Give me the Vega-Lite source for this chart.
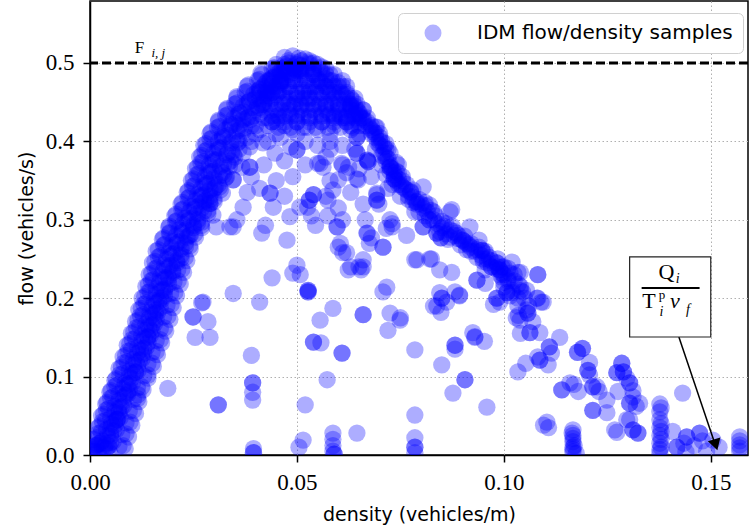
{
"$schema": "https://vega.github.io/schema/vega-lite/v6.json",
"width": 658, "height": 454,
"autosize": {"type": "none"},
"padding": {"left": 90, "top": 1, "right": 2, "bottom": 77},
"background": "white",
"config": {
  "view": {"stroke": "black", "strokeWidth": 1.5},
  "axis": {
    "labelFont": "Liberation Serif", "labelFontSize": 23, "labelColor": "black",
    "tickColor": "black", "tickSize": 7, "tickWidth": 1.5,
    "domainColor": "black", "domainWidth": 1.5,
    "grid": true, "gridDash": [1.5, 2.5], "gridColor": "#b0b0b0", "gridWidth": 1,
    "titleFont": "DejaVu Sans", "titleFontSize": 19, "titleFontWeight": "normal", "titleColor": "black",
    "labelPadding": 9, "labelFlush": false
  }
},
"datasets": {
"samples": [
{"density":0.0005,"flow":0.005},{"density":0.002,"flow":0.003},{"density":0.004,"flow":0.008},
{"density":0.001,"flow":0.02},{"density":0.003,"flow":0.018},{"density":0.005,"flow":0.024},
{"density":0.002,"flow":0.035},{"density":0.004,"flow":0.032},{"density":0.006,"flow":0.038},
{"density":0.0028,"flow":0.05},{"density":0.005,"flow":0.047},{"density":0.007,"flow":0.053},
{"density":0.0038,"flow":0.065},{"density":0.006,"flow":0.062},{"density":0.008,"flow":0.068},
{"density":0.0048,"flow":0.08},{"density":0.007,"flow":0.078},{"density":0.0095,"flow":0.083},
{"density":0.006,"flow":0.095},{"density":0.0085,"flow":0.092},{"density":0.010,"flow":0.098},
{"density":0.007,"flow":0.11},{"density":0.0095,"flow":0.107},{"density":0.0115,"flow":0.114},
{"density":0.008,"flow":0.125},{"density":0.0105,"flow":0.122},{"density":0.0125,"flow":0.128},
{"density":0.009,"flow":0.14},{"density":0.0115,"flow":0.137},{"density":0.014,"flow":0.143},
{"density":0.010,"flow":0.155},{"density":0.0125,"flow":0.152},{"density":0.015,"flow":0.158},
{"density":0.011,"flow":0.17},{"density":0.0135,"flow":0.167},{"density":0.016,"flow":0.173},
{"density":0.0118,"flow":0.185},{"density":0.0145,"flow":0.182},{"density":0.017,"flow":0.188},
{"density":0.0126,"flow":0.20},{"density":0.0155,"flow":0.197},{"density":0.018,"flow":0.203},
{"density":0.0135,"flow":0.215},{"density":0.016,"flow":0.212},{"density":0.019,"flow":0.218},
{"density":0.0143,"flow":0.23},{"density":0.017,"flow":0.227},{"density":0.020,"flow":0.233},
{"density":0.0151,"flow":0.245},{"density":0.018,"flow":0.242},{"density":0.021,"flow":0.248},
{"density":0.016,"flow":0.26},{"density":0.019,"flow":0.257},{"density":0.022,"flow":0.263},
{"density":0.0175,"flow":0.275},{"density":0.020,"flow":0.272},{"density":0.0235,"flow":0.278},
{"density":0.019,"flow":0.29},{"density":0.0215,"flow":0.287},{"density":0.025,"flow":0.293},
{"density":0.0205,"flow":0.305},{"density":0.023,"flow":0.302},{"density":0.026,"flow":0.308},
{"density":0.022,"flow":0.32},{"density":0.0245,"flow":0.317},{"density":0.0275,"flow":0.323},
{"density":0.0235,"flow":0.335},{"density":0.026,"flow":0.332},{"density":0.029,"flow":0.338},
{"density":0.0245,"flow":0.35},{"density":0.0275,"flow":0.347},{"density":0.030,"flow":0.353},
{"density":0.0255,"flow":0.365},{"density":0.0285,"flow":0.362},{"density":0.0315,"flow":0.368},
{"density":0.0265,"flow":0.38},{"density":0.0295,"flow":0.377},{"density":0.033,"flow":0.383},
{"density":0.0275,"flow":0.395},{"density":0.031,"flow":0.392},{"density":0.034,"flow":0.398},
{"density":0.029,"flow":0.41},{"density":0.032,"flow":0.407},{"density":0.0355,"flow":0.413},
{"density":0.031,"flow":0.425},{"density":0.034,"flow":0.422},{"density":0.037,"flow":0.428},
{"density":0.033,"flow":0.44},{"density":0.036,"flow":0.437},{"density":0.039,"flow":0.443},
{"density":0.0355,"flow":0.455},{"density":0.0385,"flow":0.452},{"density":0.042,"flow":0.458},
{"density":0.038,"flow":0.47},{"density":0.041,"flow":0.467},{"density":0.044,"flow":0.473},
{"density":0.0415,"flow":0.485},{"density":0.0445,"flow":0.482},{"density":0.0475,"flow":0.488},
{"density":0.045,"flow":0.498},{"density":0.048,"flow":0.5},{"density":0.051,"flow":0.497},
{"density":0.047,"flow":0.507},{"density":0.049,"flow":0.509},{"density":0.0505,"flow":0.506},
{"density":0.0015,"flow":0.0125},{"density":0.0045,"flow":0.011},{"density":0.002,"flow":0.0275},{"density":0.005,"flow":0.027},
{"density":0.003,"flow":0.0425},{"density":0.006,"flow":0.043},{"density":0.004,"flow":0.0575},{"density":0.007,"flow":0.06},
{"density":0.005,"flow":0.0725},{"density":0.008,"flow":0.074},{"density":0.006,"flow":0.0875},{"density":0.009,"flow":0.089},
{"density":0.0072,"flow":0.1025},{"density":0.0102,"flow":0.104},{"density":0.0082,"flow":0.1175},{"density":0.0112,"flow":0.119},
{"density":0.0092,"flow":0.1325},{"density":0.0122,"flow":0.134},{"density":0.0102,"flow":0.1475},{"density":0.0132,"flow":0.149},
{"density":0.0112,"flow":0.1625},{"density":0.0142,"flow":0.164},{"density":0.0122,"flow":0.1775},{"density":0.0152,"flow":0.179},
{"density":0.013,"flow":0.1925},{"density":0.016,"flow":0.194},{"density":0.014,"flow":0.2075},{"density":0.017,"flow":0.209},
{"density":0.0148,"flow":0.2225},{"density":0.0178,"flow":0.224},{"density":0.0157,"flow":0.2375},{"density":0.0187,"flow":0.239},
{"density":0.0165,"flow":0.2525},{"density":0.0195,"flow":0.254},{"density":0.0178,"flow":0.2675},{"density":0.0208,"flow":0.269},
{"density":0.0192,"flow":0.2825},{"density":0.0222,"flow":0.284},{"density":0.0207,"flow":0.2975},{"density":0.0237,"flow":0.299},
{"density":0.0222,"flow":0.3125},{"density":0.0252,"flow":0.314},{"density":0.0237,"flow":0.3275},{"density":0.0267,"flow":0.329},
{"density":0.0248,"flow":0.3425},{"density":0.0278,"flow":0.344},{"density":0.0258,"flow":0.3575},{"density":0.0288,"flow":0.359},
{"density":0.0268,"flow":0.3725},{"density":0.0298,"flow":0.374},{"density":0.0278,"flow":0.3875},{"density":0.0308,"flow":0.389},
{"density":0.029,"flow":0.4025},{"density":0.032,"flow":0.404},{"density":0.0308,"flow":0.4175},{"density":0.0338,"flow":0.419},
{"density":0.0328,"flow":0.4325},{"density":0.0358,"flow":0.434},{"density":0.035,"flow":0.4475},{"density":0.038,"flow":0.449},
{"density":0.0375,"flow":0.4625},{"density":0.0405,"flow":0.464},{"density":0.0405,"flow":0.4775},{"density":0.0435,"flow":0.479},
{"density":0.044,"flow":0.4925},{"density":0.047,"flow":0.494},
{"density":0.002,"flow":0.014},{"density":0.005,"flow":0.016},{"density":0.008,"flow":0.012},
{"density":0.0027,"flow":0.029},{"density":0.0057,"flow":0.031},{"density":0.0087,"flow":0.027},
{"density":0.0037,"flow":0.044},{"density":0.0067,"flow":0.046},{"density":0.0097,"flow":0.042},
{"density":0.0045,"flow":0.059},{"density":0.0075,"flow":0.061},{"density":0.0105,"flow":0.057},
{"density":0.0055,"flow":0.074},{"density":0.0085,"flow":0.076},{"density":0.0115,"flow":0.072},
{"density":0.0065,"flow":0.089},{"density":0.0095,"flow":0.091},{"density":0.0125,"flow":0.087},
{"density":0.008,"flow":0.104},{"density":0.011,"flow":0.106},{"density":0.014,"flow":0.102},
{"density":0.009,"flow":0.119},{"density":0.012,"flow":0.121},{"density":0.015,"flow":0.117},
{"density":0.010,"flow":0.134},{"density":0.013,"flow":0.136},{"density":0.016,"flow":0.132},
{"density":0.011,"flow":0.149},{"density":0.014,"flow":0.151},{"density":0.017,"flow":0.147},
{"density":0.012,"flow":0.164},{"density":0.015,"flow":0.166},{"density":0.018,"flow":0.162},
{"density":0.0128,"flow":0.179},{"density":0.0158,"flow":0.181},{"density":0.0188,"flow":0.177},
{"density":0.0136,"flow":0.194},{"density":0.0166,"flow":0.196},{"density":0.0196,"flow":0.192},
{"density":0.0145,"flow":0.209},{"density":0.0175,"flow":0.211},{"density":0.0205,"flow":0.207},
{"density":0.0153,"flow":0.224},{"density":0.0183,"flow":0.226},{"density":0.0213,"flow":0.222},
{"density":0.0162,"flow":0.239},{"density":0.0192,"flow":0.241},{"density":0.0222,"flow":0.237},
{"density":0.017,"flow":0.254},{"density":0.020,"flow":0.256},{"density":0.023,"flow":0.252},
{"density":0.0181,"flow":0.269},{"density":0.0211,"flow":0.271},{"density":0.0241,"flow":0.267},
{"density":0.0193,"flow":0.284},{"density":0.0223,"flow":0.286},{"density":0.0253,"flow":0.282},
{"density":0.021,"flow":0.299},{"density":0.024,"flow":0.301},{"density":0.027,"flow":0.297},
{"density":0.0225,"flow":0.314},{"density":0.0255,"flow":0.316},{"density":0.0285,"flow":0.312},
{"density":0.024,"flow":0.329},{"density":0.027,"flow":0.331},{"density":0.030,"flow":0.327},
{"density":0.0253,"flow":0.344},{"density":0.0283,"flow":0.346},{"density":0.0313,"flow":0.342},
{"density":0.0263,"flow":0.359},{"density":0.0293,"flow":0.361},{"density":0.0323,"flow":0.357},
{"density":0.0273,"flow":0.374},{"density":0.0303,"flow":0.376},{"density":0.0333,"flow":0.372},
{"density":0.0283,"flow":0.389},{"density":0.0313,"flow":0.391},{"density":0.0343,"flow":0.387},
{"density":0.0295,"flow":0.404},{"density":0.0325,"flow":0.406},{"density":0.0355,"flow":0.402},
{"density":0.0313,"flow":0.419},{"density":0.0343,"flow":0.421},{"density":0.0373,"flow":0.417},
{"density":0.0333,"flow":0.434},{"density":0.0363,"flow":0.436},{"density":0.0393,"flow":0.432},
{"density":0.0355,"flow":0.449},{"density":0.0385,"flow":0.451},{"density":0.0415,"flow":0.447},
{"density":0.038,"flow":0.464},{"density":0.041,"flow":0.466},{"density":0.044,"flow":0.462},
{"density":0.041,"flow":0.479},{"density":0.044,"flow":0.481},{"density":0.047,"flow":0.477},
{"density":0.0445,"flow":0.494},{"density":0.0475,"flow":0.496},{"density":0.0505,"flow":0.492},
{"density":0.0035,"flow":0.0095},{"density":0.007,"flow":0.011},{"density":0.0042,"flow":0.0245},{"density":0.0077,"flow":0.026},
{"density":0.0052,"flow":0.0395},{"density":0.0087,"flow":0.041},{"density":0.006,"flow":0.0545},{"density":0.0095,"flow":0.056},
{"density":0.007,"flow":0.0695},{"density":0.0105,"flow":0.071},{"density":0.008,"flow":0.0845},{"density":0.0115,"flow":0.086},
{"density":0.0095,"flow":0.0995},{"density":0.013,"flow":0.101},{"density":0.0105,"flow":0.1145},{"density":0.014,"flow":0.116},
{"density":0.0115,"flow":0.1295},{"density":0.015,"flow":0.131},{"density":0.0125,"flow":0.1445},{"density":0.016,"flow":0.146},
{"density":0.0135,"flow":0.1595},{"density":0.017,"flow":0.161},{"density":0.0143,"flow":0.1745},{"density":0.0178,"flow":0.176},
{"density":0.0151,"flow":0.1895},{"density":0.0186,"flow":0.191},{"density":0.016,"flow":0.2045},{"density":0.0195,"flow":0.206},
{"density":0.0168,"flow":0.2195},{"density":0.0203,"flow":0.221},{"density":0.0177,"flow":0.2345},{"density":0.0212,"flow":0.236},
{"density":0.0185,"flow":0.2495},{"density":0.022,"flow":0.251},{"density":0.0196,"flow":0.2645},{"density":0.0231,"flow":0.266},
{"density":0.0208,"flow":0.2795},{"density":0.0243,"flow":0.281},{"density":0.0225,"flow":0.2945},{"density":0.026,"flow":0.296},
{"density":0.024,"flow":0.3095},{"density":0.0275,"flow":0.311},{"density":0.0255,"flow":0.3245},{"density":0.029,"flow":0.326},
{"density":0.0268,"flow":0.3395},{"density":0.0303,"flow":0.341},{"density":0.0278,"flow":0.3545},{"density":0.0313,"flow":0.356},
{"density":0.0288,"flow":0.3695},{"density":0.0323,"flow":0.371},{"density":0.0298,"flow":0.3845},{"density":0.0333,"flow":0.386},
{"density":0.031,"flow":0.3995},{"density":0.0345,"flow":0.401},{"density":0.0328,"flow":0.4145},{"density":0.0363,"flow":0.416},
{"density":0.0348,"flow":0.4295},{"density":0.0383,"flow":0.431},{"density":0.037,"flow":0.4445},{"density":0.0405,"flow":0.446},
{"density":0.0395,"flow":0.4595},{"density":0.043,"flow":0.461},{"density":0.0425,"flow":0.4745},{"density":0.046,"flow":0.476},
{"density":0.046,"flow":0.4895},{"density":0.0495,"flow":0.491},
{"density":0.0008,"flow":0.007},{"density":0.0048,"flow":0.0025},{"density":0.0085,"flow":0.008},
{"density":0.0016,"flow":0.022},{"density":0.0056,"flow":0.0175},{"density":0.0093,"flow":0.023},
{"density":0.0024,"flow":0.037},{"density":0.0064,"flow":0.0325},{"density":0.0101,"flow":0.038},
{"density":0.0033,"flow":0.052},{"density":0.0073,"flow":0.0475},{"density":0.011,"flow":0.053},
{"density":0.0041,"flow":0.067},{"density":0.0081,"flow":0.0625},{"density":0.0118,"flow":0.068},
{"density":0.0051,"flow":0.082},{"density":0.0091,"flow":0.0775},{"density":0.0128,"flow":0.083},
{"density":0.0063,"flow":0.097},{"density":0.0103,"flow":0.0925},{"density":0.014,"flow":0.098},
{"density":0.0076,"flow":0.112},{"density":0.0116,"flow":0.1075},{"density":0.0153,"flow":0.113},
{"density":0.0086,"flow":0.127},{"density":0.0126,"flow":0.1225},{"density":0.0163,"flow":0.128},
{"density":0.0096,"flow":0.142},{"density":0.0136,"flow":0.1375},{"density":0.0173,"flow":0.143},
{"density":0.0106,"flow":0.157},{"density":0.0146,"flow":0.1525},{"density":0.0183,"flow":0.158},
{"density":0.0116,"flow":0.172},{"density":0.0156,"flow":0.1675},{"density":0.0193,"flow":0.173},
{"density":0.0124,"flow":0.187},{"density":0.0164,"flow":0.1825},{"density":0.0201,"flow":0.188},
{"density":0.0132,"flow":0.202},{"density":0.0172,"flow":0.1975},{"density":0.0209,"flow":0.203},
{"density":0.0141,"flow":0.217},{"density":0.0181,"flow":0.2125},{"density":0.0218,"flow":0.218},
{"density":0.0149,"flow":0.232},{"density":0.0189,"flow":0.2275},{"density":0.0226,"flow":0.233},
{"density":0.0157,"flow":0.247},{"density":0.0197,"flow":0.2425},{"density":0.0234,"flow":0.248},
{"density":0.0165,"flow":0.262},{"density":0.0205,"flow":0.2575},{"density":0.0242,"flow":0.263},
{"density":0.0178,"flow":0.277},{"density":0.0218,"flow":0.2725},{"density":0.0255,"flow":0.278},
{"density":0.0192,"flow":0.292},{"density":0.0232,"flow":0.2875},{"density":0.0269,"flow":0.293},
{"density":0.0208,"flow":0.307},{"density":0.0248,"flow":0.3025},{"density":0.0285,"flow":0.308},
{"density":0.0223,"flow":0.322},{"density":0.0263,"flow":0.3175},{"density":0.03,"flow":0.323},
{"density":0.0238,"flow":0.337},{"density":0.0278,"flow":0.3325},{"density":0.0315,"flow":0.338},
{"density":0.025,"flow":0.352},{"density":0.029,"flow":0.3475},{"density":0.0327,"flow":0.353},
{"density":0.026,"flow":0.367},{"density":0.03,"flow":0.3625},{"density":0.0337,"flow":0.368},
{"density":0.027,"flow":0.382},{"density":0.031,"flow":0.3775},{"density":0.0347,"flow":0.383},
{"density":0.028,"flow":0.397},{"density":0.032,"flow":0.3925},{"density":0.0357,"flow":0.398},
{"density":0.0293,"flow":0.412},{"density":0.0333,"flow":0.4075},{"density":0.037,"flow":0.413},
{"density":0.0311,"flow":0.427},{"density":0.0351,"flow":0.4225},{"density":0.0388,"flow":0.428},
{"density":0.0332,"flow":0.442},{"density":0.0372,"flow":0.4375},{"density":0.0409,"flow":0.443},
{"density":0.0355,"flow":0.457},{"density":0.0395,"flow":0.4525},{"density":0.0432,"flow":0.458},
{"density":0.0383,"flow":0.472},{"density":0.0423,"flow":0.4675},{"density":0.046,"flow":0.473},
{"density":0.0413,"flow":0.487},{"density":0.0453,"flow":0.4825},{"density":0.049,"flow":0.488},
{"density":0.0455,"flow":0.418},{"density":0.0485,"flow":0.418},{"density":0.0515,"flow":0.418},{"density":0.0545,"flow":0.418},
{"density":0.0575,"flow":0.418},{"density":0.0605,"flow":0.418},{"density":0.0635,"flow":0.418},
{"density":0.044,"flow":0.4325},{"density":0.047,"flow":0.4325},{"density":0.05,"flow":0.4325},{"density":0.053,"flow":0.4325},
{"density":0.056,"flow":0.4325},{"density":0.059,"flow":0.4325},{"density":0.062,"flow":0.4325},{"density":0.065,"flow":0.4325},
{"density":0.042,"flow":0.4475},{"density":0.045,"flow":0.4475},{"density":0.048,"flow":0.4475},{"density":0.051,"flow":0.4475},
{"density":0.054,"flow":0.4475},{"density":0.057,"flow":0.4475},{"density":0.06,"flow":0.4475},{"density":0.063,"flow":0.4475},
{"density":0.041,"flow":0.4625},{"density":0.044,"flow":0.4625},{"density":0.047,"flow":0.4625},{"density":0.05,"flow":0.4625},
{"density":0.053,"flow":0.4625},{"density":0.056,"flow":0.4625},{"density":0.059,"flow":0.4625},{"density":0.062,"flow":0.4625},
{"density":0.043,"flow":0.4775},{"density":0.046,"flow":0.4775},{"density":0.049,"flow":0.4775},{"density":0.052,"flow":0.4775},
{"density":0.055,"flow":0.4775},{"density":0.058,"flow":0.4775},{"density":0.061,"flow":0.4775},
{"density":0.045,"flow":0.4925},{"density":0.048,"flow":0.4925},{"density":0.051,"flow":0.4925},{"density":0.054,"flow":0.4925},{"density":0.057,"flow":0.4925},
{"density":0.048,"flow":0.503},{"density":0.051,"flow":0.503},{"density":0.053,"flow":0.503},
{"density":0.0625,"flow":0.448},{"density":0.065,"flow":0.437},{"density":0.067,"flow":0.43},{"density":0.0685,"flow":0.412},
{"density":0.07,"flow":0.405},{"density":0.0715,"flow":0.397},{"density":0.0725,"flow":0.385},{"density":0.074,"flow":0.373},
{"density":0.0745,"flow":0.36},{"density":0.0755,"flow":0.355},{"density":0.0765,"flow":0.345},{"density":0.078,"flow":0.338},
{"density":0.0795,"flow":0.326},{"density":0.081,"flow":0.322},{"density":0.0825,"flow":0.312},{"density":0.0835,"flow":0.305},
{"density":0.085,"flow":0.298},{"density":0.0875,"flow":0.292},{"density":0.0885,"flow":0.283},{"density":0.0905,"flow":0.279},
{"density":0.0915,"flow":0.268},{"density":0.094,"flow":0.265},{"density":0.0955,"flow":0.26},{"density":0.0965,"flow":0.252},
{"density":0.0985,"flow":0.25},{"density":0.0985,"flow":0.24},{"density":0.101,"flow":0.238},{"density":0.1025,"flow":0.23},
{"density":0.1035,"flow":0.218},{"density":0.1055,"flow":0.21},
{"density":0.044,"flow":0.425},{"density":0.047,"flow":0.425},{"density":0.05,"flow":0.425},{"density":0.053,"flow":0.425},
{"density":0.056,"flow":0.425},{"density":0.059,"flow":0.425},{"density":0.062,"flow":0.425},{"density":0.065,"flow":0.425},
{"density":0.042,"flow":0.44},{"density":0.045,"flow":0.44},{"density":0.048,"flow":0.44},{"density":0.051,"flow":0.44},
{"density":0.054,"flow":0.44},{"density":0.057,"flow":0.44},{"density":0.06,"flow":0.44},{"density":0.063,"flow":0.44},{"density":0.066,"flow":0.44},
{"density":0.041,"flow":0.455},{"density":0.044,"flow":0.455},{"density":0.047,"flow":0.455},{"density":0.05,"flow":0.455},
{"density":0.053,"flow":0.455},{"density":0.056,"flow":0.455},{"density":0.059,"flow":0.455},{"density":0.062,"flow":0.455},{"density":0.064,"flow":0.455},
{"density":0.042,"flow":0.47},{"density":0.045,"flow":0.47},{"density":0.048,"flow":0.47},{"density":0.051,"flow":0.47},
{"density":0.054,"flow":0.47},{"density":0.057,"flow":0.47},{"density":0.06,"flow":0.47},{"density":0.062,"flow":0.47},
{"density":0.045,"flow":0.485},{"density":0.048,"flow":0.485},{"density":0.051,"flow":0.485},{"density":0.054,"flow":0.485},
{"density":0.057,"flow":0.485},{"density":0.059,"flow":0.485},
{"density":0.047,"flow":0.498},{"density":0.05,"flow":0.498},{"density":0.053,"flow":0.498},{"density":0.055,"flow":0.498},
{"density":0.0455,"flow":0.4325},{"density":0.0485,"flow":0.4325},{"density":0.0515,"flow":0.4325},{"density":0.0545,"flow":0.4325},
{"density":0.0575,"flow":0.4325},{"density":0.0605,"flow":0.4325},{"density":0.0635,"flow":0.4325},
{"density":0.0435,"flow":0.4475},{"density":0.0465,"flow":0.4475},{"density":0.0495,"flow":0.4475},{"density":0.0525,"flow":0.4475},
{"density":0.0555,"flow":0.4475},{"density":0.0585,"flow":0.4475},{"density":0.0615,"flow":0.4475},{"density":0.0645,"flow":0.4475},
{"density":0.0425,"flow":0.4625},{"density":0.0455,"flow":0.4625},{"density":0.0485,"flow":0.4625},{"density":0.0515,"flow":0.4625},
{"density":0.0545,"flow":0.4625},{"density":0.0575,"flow":0.4625},{"density":0.0605,"flow":0.4625},
{"density":0.0435,"flow":0.4775},{"density":0.0465,"flow":0.4775},{"density":0.0495,"flow":0.4775},{"density":0.0525,"flow":0.4775},
{"density":0.0555,"flow":0.4775},{"density":0.0585,"flow":0.4775},
{"density":0.0465,"flow":0.4925},{"density":0.0495,"flow":0.4925},{"density":0.0525,"flow":0.4925},{"density":0.0555,"flow":0.4925},
{"density":0.063,"flow":0.445},{"density":0.064,"flow":0.435},{"density":0.0655,"flow":0.43},{"density":0.0665,"flow":0.42},
{"density":0.068,"flow":0.415},{"density":0.069,"flow":0.405},{"density":0.0705,"flow":0.4},{"density":0.0715,"flow":0.39},
{"density":0.0715,"flow":0.38},{"density":0.0725,"flow":0.37},{"density":0.0725,"flow":0.362},{"density":0.0735,"flow":0.357},
{"density":0.074,"flow":0.35},{"density":0.075,"flow":0.345},{"density":0.0765,"flow":0.338},{"density":0.077,"flow":0.326},
{"density":0.079,"flow":0.32},{"density":0.0795,"flow":0.31},{"density":0.0815,"flow":0.31},{"density":0.082,"flow":0.3},
{"density":0.084,"flow":0.295},{"density":0.0845,"flow":0.285},{"density":0.087,"flow":0.287},{"density":0.087,"flow":0.278},
{"density":0.089,"flow":0.276},{"density":0.0895,"flow":0.268},{"density":0.092,"flow":0.27},{"density":0.092,"flow":0.26},
{"density":0.0945,"flow":0.255},{"density":0.095,"flow":0.247},{"density":0.097,"flow":0.248},{"density":0.097,"flow":0.24},
{"density":0.0995,"flow":0.24},{"density":0.0995,"flow":0.232},{"density":0.1015,"flow":0.232},{"density":0.101,"flow":0.222},
{"density":0.0635,"flow":0.452},{"density":0.0645,"flow":0.44},{"density":0.066,"flow":0.428},{"density":0.0675,"flow":0.418},
{"density":0.069,"flow":0.41},{"density":0.0695,"flow":0.398},{"density":0.071,"flow":0.393},{"density":0.0705,"flow":0.382},
{"density":0.072,"flow":0.378},{"density":0.073,"flow":0.365},{"density":0.0735,"flow":0.36},{"density":0.0745,"flow":0.352},
{"density":0.0755,"flow":0.342},{"density":0.0775,"flow":0.335},{"density":0.078,"flow":0.322},{"density":0.0805,"flow":0.315},
{"density":0.081,"flow":0.305},{"density":0.083,"flow":0.3},{"density":0.0855,"flow":0.292},{"density":0.086,"flow":0.282},
{"density":0.088,"flow":0.28},{"density":0.0905,"flow":0.272},{"density":0.091,"flow":0.262},{"density":0.0935,"flow":0.262},
{"density":0.0935,"flow":0.252},{"density":0.096,"flow":0.245},{"density":0.098,"flow":0.238},{"density":0.1,"flow":0.23},
{"density":0.1025,"flow":0.222},{"density":0.1045,"flow":0.208},
{"density":0.04,"flow":0.41},{"density":0.043,"flow":0.40},{"density":0.046,"flow":0.405},{"density":0.052,"flow":0.40},
{"density":0.055,"flow":0.395},{"density":0.058,"flow":0.40},{"density":0.061,"flow":0.395},{"density":0.064,"flow":0.39},
{"density":0.047,"flow":0.375},{"density":0.052,"flow":0.37},{"density":0.057,"flow":0.38},{"density":0.062,"flow":0.36},
{"density":0.042,"flow":0.37},{"density":0.039,"flow":0.355},{"density":0.045,"flow":0.35},{"density":0.049,"flow":0.355},
{"density":0.058,"flow":0.35},{"density":0.063,"flow":0.335},{"density":0.041,"flow":0.34},{"density":0.047,"flow":0.33},
{"density":0.057,"flow":0.33},{"density":0.06,"flow":0.315},{"density":0.066,"flow":0.32},{"density":0.0665,"flow":0.30},
{"density":0.061,"flow":0.30},{"density":0.065,"flow":0.365},{"density":0.068,"flow":0.355},{"density":0.036,"flow":0.4},
{"density":0.035,"flow":0.38},{"density":0.038,"flow":0.335},
{"density":0.033,"flow":0.355},{"density":0.035,"flow":0.37},{"density":0.037,"flow":0.385},{"density":0.039,"flow":0.40},
{"density":0.041,"flow":0.415},{"density":0.043,"flow":0.43},{"density":0.031,"flow":0.345},{"density":0.029,"flow":0.33},
{"density":0.027,"flow":0.315},{"density":0.025,"flow":0.29},{"density":0.023,"flow":0.27},{"density":0.021,"flow":0.245},
{"density":0.019,"flow":0.225},{"density":0.017,"flow":0.2},{"density":0.0155,"flow":0.175},{"density":0.014,"flow":0.15},
{"density":0.032,"flow":0.36},{"density":0.034,"flow":0.375},{"density":0.036,"flow":0.39},
{"density":0.038,"flow":0.405},{"density":0.040,"flow":0.42},{"density":0.030,"flow":0.34},
{"density":0.028,"flow":0.325},{"density":0.026,"flow":0.30},{"density":0.024,"flow":0.28},
{"density":0.022,"flow":0.255},{"density":0.020,"flow":0.235},{"density":0.018,"flow":0.21},
{"density":0.016,"flow":0.185},{"density":0.0145,"flow":0.16},{"density":0.013,"flow":0.13},
{"density":0.011,"flow":0.105},{"density":0.009,"flow":0.08},{"density":0.007,"flow":0.055},
{"density":0.005,"flow":0.035},{"density":0.003,"flow":0.01},
{"density":0.042,"flow":0.45},{"density":0.045,"flow":0.46},{"density":0.048,"flow":0.47},
{"density":0.051,"flow":0.48},{"density":0.054,"flow":0.49},{"density":0.053,"flow":0.5},
{"density":0.056,"flow":0.495},{"density":0.058,"flow":0.485},{"density":0.06,"flow":0.475},
{"density":0.062,"flow":0.46},{"density":0.064,"flow":0.445},{"density":0.066,"flow":0.43},
{"density":0.068,"flow":0.42},{"density":0.07,"flow":0.41},{"density":0.044,"flow":0.44},
{"density":0.047,"flow":0.45},{"density":0.05,"flow":0.46},{"density":0.053,"flow":0.47},
{"density":0.056,"flow":0.475},{"density":0.058,"flow":0.465},{"density":0.06,"flow":0.455},
{"density":0.062,"flow":0.44},{"density":0.064,"flow":0.43},{"density":0.042,"flow":0.43},
{"density":0.045,"flow":0.425},{"density":0.048,"flow":0.435},{"density":0.051,"flow":0.445},
{"density":0.054,"flow":0.455},{"density":0.057,"flow":0.445},{"density":0.06,"flow":0.435},
{"density":0.063,"flow":0.42},{"density":0.047,"flow":0.42},{"density":0.05,"flow":0.425},
{"density":0.053,"flow":0.43},{"density":0.056,"flow":0.425},{"density":0.059,"flow":0.42},
{"density":0.061,"flow":0.43},{"density":0.052,"flow":0.49},{"density":0.05,"flow":0.49},
{"density":0.047,"flow":0.49},{"density":0.049,"flow":0.48},{"density":0.046,"flow":0.475},
{"density":0.043,"flow":0.465},{"density":0.055,"flow":0.48},{"density":0.057,"flow":0.47},
{"density":0.040,"flow":0.44},{"density":0.038,"flow":0.43},{"density":0.036,"flow":0.42},
{"density":0.04,"flow":0.455},{"density":0.052,"flow":0.455},{"density":0.055,"flow":0.46},
{"density":0.058,"flow":0.45},{"density":0.044,"flow":0.47},{"density":0.061,"flow":0.47},
{"density":0.063,"flow":0.455},{"density":0.066,"flow":0.44},{"density":0.065,"flow":0.42},
{"density":0.043,"flow":0.455},{"density":0.046,"flow":0.465},{"density":0.049,"flow":0.495},{"density":0.051,"flow":0.49},
{"density":0.054,"flow":0.485},{"density":0.057,"flow":0.48},{"density":0.059,"flow":0.47},{"density":0.061,"flow":0.46},
{"density":0.063,"flow":0.445},{"density":0.065,"flow":0.435},{"density":0.067,"flow":0.425},{"density":0.046,"flow":0.44},
{"density":0.049,"flow":0.445},{"density":0.052,"flow":0.465},{"density":0.055,"flow":0.47},{"density":0.058,"flow":0.46},
{"density":0.06,"flow":0.445},{"density":0.062,"flow":0.43},{"density":0.044,"flow":0.425},{"density":0.048,"flow":0.455},
{"density":0.051,"flow":0.455},{"density":0.055,"flow":0.445},{"density":0.058,"flow":0.435},{"density":0.046,"flow":0.43},
{"density":0.05,"flow":0.435},{"density":0.053,"flow":0.44},{"density":0.056,"flow":0.435},{"density":0.059,"flow":0.43},
{"density":0.062,"flow":0.425},{"density":0.041,"flow":0.435},{"density":0.039,"flow":0.42},{"density":0.046,"flow":0.485},
{"density":0.05,"flow":0.5},{"density":0.052,"flow":0.505},{"density":0.054,"flow":0.5},{"density":0.056,"flow":0.488},
{"density":0.043,"flow":0.42},{"density":0.055,"flow":0.415},{"density":0.058,"flow":0.41},{"density":0.045,"flow":0.41},{"density":0.05,"flow":0.41},
{"density":0.068,"flow":0.41},{"density":0.07,"flow":0.4},{"density":0.072,"flow":0.39},{"density":0.069,"flow":0.39},
{"density":0.0715,"flow":0.375},{"density":0.074,"flow":0.362},{"density":0.0705,"flow":0.37},{"density":0.073,"flow":0.345},
{"density":0.0755,"flow":0.35},{"density":0.077,"flow":0.33},{"density":0.08,"flow":0.32},{"density":0.083,"flow":0.31},
{"density":0.086,"flow":0.295},{"density":0.089,"flow":0.28},{"density":0.091,"flow":0.27},{"density":0.093,"flow":0.26},
{"density":0.095,"flow":0.25},{"density":0.097,"flow":0.24},{"density":0.099,"flow":0.23},{"density":0.1,"flow":0.22},
{"density":0.102,"flow":0.21},{"density":0.105,"flow":0.2},{"density":0.106,"flow":0.19},{"density":0.107,"flow":0.17},
{"density":0.0386,"flow":0.367},{"density":0.0386,"flow":0.367},{"density":0.05,"flow":0.389},
{"density":0.05,"flow":0.389},{"density":0.053,"flow":0.325},{"density":0.053,"flow":0.325},
{"density":0.0435,"flow":0.334},{"density":0.0435,"flow":0.334},{"density":0.032,"flow":0.334},
{"density":0.0346,"flow":0.351},{"density":0.0346,"flow":0.351},{"density":0.029,"flow":0.321},
{"density":0.029,"flow":0.321},{"density":0.0418,"flow":0.398},{"density":0.0485,"flow":0.393},
{"density":0.055,"flow":0.372},{"density":0.06,"flow":0.351},{"density":0.0645,"flow":0.352},
{"density":0.067,"flow":0.376},{"density":0.067,"flow":0.376},{"density":0.0725,"flow":0.367},
{"density":0.0725,"flow":0.367},{"density":0.0693,"flow":0.334},{"density":0.0693,"flow":0.325},
{"density":0.0693,"flow":0.325},{"density":0.079,"flow":0.323},{"density":0.0775,"flow":0.336},
{"density":0.081,"flow":0.318},{"density":0.0725,"flow":0.30},{"density":0.073,"flow":0.295},
{"density":0.0483,"flow":0.304},{"density":0.0424,"flow":0.293},{"density":0.0338,"flow":0.291},
{"density":0.0305,"flow":0.291},{"density":0.0545,"flow":0.293},{"density":0.0535,"flow":0.305},
{"density":0.0575,"flow":0.305},{"density":0.037,"flow":0.316},{"density":0.0443,"flow":0.316},
{"density":0.0507,"flow":0.316},{"density":0.0563,"flow":0.367},{"density":0.061,"flow":0.37},
{"density":0.0386,"flow":0.393},{"density":0.0447,"flow":0.385},{"density":0.0367,"flow":0.367},
{"density":0.0524,"flow":0.418},{"density":0.049,"flow":0.415},{"density":0.0645,"flow":0.405},
{"density":0.0645,"flow":0.405},{"density":0.063,"flow":0.415},{"density":0.069,"flow":0.418},
{"density":0.0693,"flow":0.418},{"density":0.065,"flow":0.41},{"density":0.0645,"flow":0.385},
{"density":0.0645,"flow":0.385},{"density":0.0672,"flow":0.374},{"density":0.0672,"flow":0.374},
{"density":0.0735,"flow":0.352},{"density":0.0735,"flow":0.352},{"density":0.0693,"flow":0.332},
{"density":0.0698,"flow":0.32},{"density":0.078,"flow":0.329},{"density":0.0787,"flow":0.323},
{"density":0.0805,"flow":0.342},{"density":0.082,"flow":0.319},{"density":0.0874,"flow":0.313},
{"density":0.087,"flow":0.31},{"density":0.0805,"flow":0.291},{"density":0.0805,"flow":0.291},
{"density":0.073,"flow":0.291},{"density":0.0765,"flow":0.28},{"density":0.0708,"flow":0.265},
{"density":0.0708,"flow":0.265},{"density":0.0838,"flow":0.283},{"density":0.0838,"flow":0.283},
{"density":0.0848,"flow":0.277},{"density":0.0848,"flow":0.277},{"density":0.0865,"flow":0.275},
{"density":0.090,"flow":0.274},{"density":0.090,"flow":0.274},{"density":0.0918,"flow":0.291},
{"density":0.094,"flow":0.274},{"density":0.0947,"flow":0.261},{"density":0.0947,"flow":0.261},
{"density":0.0955,"flow":0.257},{"density":0.0983,"flow":0.245},{"density":0.0983,"flow":0.245},
{"density":0.099,"flow":0.236},{"density":0.099,"flow":0.236},{"density":0.0955,"flow":0.236},
{"density":0.0935,"flow":0.223},{"density":0.0935,"flow":0.223},{"density":0.0955,"flow":0.219},
{"density":0.0995,"flow":0.227},{"density":0.1034,"flow":0.233},{"density":0.1082,"flow":0.23},
{"density":0.1082,"flow":0.23},{"density":0.102,"flow":0.207},{"density":0.0983,"flow":0.20},
{"density":0.0983,"flow":0.20},{"density":0.099,"flow":0.195},{"density":0.1034,"flow":0.2},
{"density":0.1082,"flow":0.2},{"density":0.109,"flow":0.195},{"density":0.1058,"flow":0.181},
{"density":0.1058,"flow":0.181},{"density":0.1063,"flow":0.156},{"density":0.1063,"flow":0.156},
{"density":0.1087,"flow":0.156},{"density":0.1039,"flow":0.172},{"density":0.070,"flow":0.395},
{"density":0.071,"flow":0.385},{"density":0.0745,"flow":0.345},{"density":0.0715,"flow":0.358},
{"density":0.0745,"flow":0.37},{"density":0.076,"flow":0.34},{"density":0.072,"flow":0.34},
{"density":0.075,"flow":0.33},{"density":0.0785,"flow":0.31},{"density":0.082,"flow":0.3},
{"density":0.085,"flow":0.29},{"density":0.088,"flow":0.285},{"density":0.092,"flow":0.265},
{"density":0.096,"flow":0.25},{"density":0.1,"flow":0.24},{"density":0.101,"flow":0.225},
{"density":0.104,"flow":0.215},
{"density":0.079,"flow":0.249},{"density":0.0825,"flow":0.25},{"density":0.0845,"flow":0.236},
{"density":0.0874,"flow":0.233},{"density":0.065,"flow":0.24},{"density":0.0624,"flow":0.236},
{"density":0.0655,"flow":0.236},{"density":0.0611,"flow":0.258},{"density":0.06,"flow":0.265},
{"density":0.0597,"flow":0.291},{"density":0.0669,"flow":0.283},{"density":0.068,"flow":0.277},
{"density":0.0716,"flow":0.289},{"density":0.0717,"flow":0.214},{"density":0.0708,"flow":0.208},
{"density":0.0725,"flow":0.181},{"density":0.072,"flow":0.159},{"density":0.075,"flow":0.175},
{"density":0.066,"flow":0.179},{"density":0.0587,"flow":0.187},{"density":0.0556,"flow":0.172},
{"density":0.0527,"flow":0.208},{"density":0.0527,"flow":0.208},{"density":0.049,"flow":0.232},
{"density":0.054,"flow":0.332},{"density":0.054,"flow":0.332},{"density":0.0556,"flow":0.372},
{"density":0.058,"flow":0.39},{"density":0.0608,"flow":0.372},{"density":0.0625,"flow":0.367},
{"density":0.0648,"flow":0.351},{"density":0.0587,"flow":0.338},{"density":0.0575,"flow":0.325},
{"density":0.0526,"flow":0.316},{"density":0.0845,"flow":0.207},{"density":0.085,"flow":0.20},
{"density":0.085,"flow":0.20},{"density":0.0882,"flow":0.208},{"density":0.0893,"flow":0.203},
{"density":0.0838,"flow":0.19},{"density":0.0848,"flow":0.182},{"density":0.0925,"flow":0.156},
{"density":0.093,"flow":0.151},{"density":0.1007,"flow":0.207},{"density":0.1007,"flow":0.207},
{"density":0.1015,"flow":0.203},{"density":0.1034,"flow":0.19},
{"density":0.0785,"flow":0.134},{"density":0.085,"flow":0.115},{"density":0.0877,"flow":0.079},
{"density":0.0906,"flow":0.096},{"density":0.0906,"flow":0.096},{"density":0.0882,"flow":0.14},
{"density":0.0882,"flow":0.14},{"density":0.0882,"flow":0.135},{"density":0.093,"flow":0.15},
{"density":0.0953,"flow":0.145},{"density":0.0959,"flow":0.061},{"density":0.0785,"flow":0.051},
{"density":0.0785,"flow":0.022},{"density":0.0785,"flow":0.01},{"density":0.0785,"flow":0.01},
{"density":0.0785,"flow":0.003},{"density":0.0749,"flow":0.172},{"density":0.0785,"flow":0.249},
{"density":0.0821,"flow":0.25},{"density":0.0862,"flow":0.195},{"density":0.0893,"flow":0.204},
{"density":0.083,"flow":0.19},{"density":0.0975,"flow":0.192},{"density":0.103,"flow":0.175},
{"density":0.104,"flow":0.155},{"density":0.1034,"flow":0.106},{"density":0.1053,"flow":0.117},
{"density":0.1087,"flow":0.121},{"density":0.1087,"flow":0.121},{"density":0.1107,"flow":0.115},
{"density":0.1115,"flow":0.13},{"density":0.1135,"flow":0.15},{"density":0.114,"flow":0.083},
{"density":0.114,"flow":0.083},{"density":0.116,"flow":0.092},{"density":0.1178,"flow":0.131},
{"density":0.1178,"flow":0.131},{"density":0.119,"flow":0.136},{"density":0.119,"flow":0.136},
{"density":0.1203,"flow":0.108},{"density":0.1203,"flow":0.108},{"density":0.1207,"flow":0.102},
{"density":0.1215,"flow":0.087},{"density":0.1215,"flow":0.087},{"density":0.1169,"flow":0.09},
{"density":0.118,"flow":0.081},{"density":0.123,"flow":0.081},{"density":0.1249,"flow":0.07},
{"density":0.1215,"flow":0.057},{"density":0.1215,"flow":0.057},{"density":0.1249,"flow":0.054},
{"density":0.1268,"flow":0.032},{"density":0.1285,"flow":0.117},{"density":0.1285,"flow":0.117},
{"density":0.1289,"flow":0.106},{"density":0.1289,"flow":0.106},{"density":0.1304,"flow":0.092},
{"density":0.1304,"flow":0.092},{"density":0.1312,"flow":0.082},{"density":0.1304,"flow":0.066},
{"density":0.1304,"flow":0.066},{"density":0.1304,"flow":0.045},{"density":0.1312,"flow":0.032},
{"density":0.1312,"flow":0.032},{"density":0.1328,"flow":0.066},{"density":0.1276,"flow":0.081},
{"density":0.1104,"flow":0.042},{"density":0.1096,"flow":0.038},
{"density":0.1167,"flow":0.032},{"density":0.1167,"flow":0.025},{"density":0.1167,"flow":0.017},
{"density":0.1167,"flow":0.01},{"density":0.1167,"flow":0.004},{"density":0.1175,"flow":0.002},
{"density":0.1165,"flow":0.028},{"density":0.117,"flow":0.012},{"density":0.1167,"flow":0.021},{"density":0.1167,"flow":0.007},
{"density":0.1377,"flow":0.065},{"density":0.1377,"flow":0.055},{"density":0.1377,"flow":0.045},
{"density":0.1377,"flow":0.035},{"density":0.1377,"flow":0.025},{"density":0.1377,"flow":0.015},
{"density":0.1377,"flow":0.007},{"density":0.1377,"flow":0.002},{"density":0.138,"flow":0.06},
{"density":0.138,"flow":0.04},{"density":0.138,"flow":0.02},{"density":0.138,"flow":0.03},{"density":0.138,"flow":0.01},{"density":0.1432,"flow":0.079},
{"density":0.102,"flow":0.246},{"density":0.104,"flow":0.233},{"density":0.1,"flow":0.214},
{"density":0.104,"flow":0.21},{"density":0.108,"flow":0.2},{"density":0.1095,"flow":0.195},
{"density":0.1055,"flow":0.185},{"density":0.1035,"flow":0.178},{"density":0.1082,"flow":0.125},
{"density":0.111,"flow":0.138},{"density":0.111,"flow":0.138},{"density":0.1207,"flow":0.118},
{"density":0.1225,"flow":0.087},{"density":0.1273,"flow":0.105},{"density":0.1273,"flow":0.105},
{"density":0.1297,"flow":0.098},{"density":0.1312,"flow":0.074},{"density":0.132,"flow":0.062},
{"density":0.1297,"flow":0.045},{"density":0.1324,"flow":0.028},{"density":0.1324,"flow":0.028},
{"density":0.1108,"flow":0.035},{"density":0.1442,"flow":0.023},{"density":0.1442,"flow":0.023},
{"density":0.1473,"flow":0.028},{"density":0.1473,"flow":0.028},{"density":0.1505,"flow":0.019},
{"density":0.1418,"flow":0.01},{"density":0.1418,"flow":0.01},{"density":0.152,"flow":0.01},
{"density":0.157,"flow":0.023},{"density":0.157,"flow":0.013},{"density":0.157,"flow":0.005},
{"density":0.157,"flow":0.018},{"density":0.157,"flow":0.009},{"density":0.1408,"flow":0.03},
{"density":0.1273,"flow":0.029},{"density":0.146,"flow":0.012},{"density":0.149,"flow":0.005},
{"density":0.144,"flow":0.004},{"density":0.1435,"flow":0.015},{"density":0.148,"flow":0.018},
{"density":0.0249,"flow":0.176},{"density":0.0249,"flow":0.176},{"density":0.0285,"flow":0.17},
{"density":0.0254,"flow":0.15},{"density":0.029,"flow":0.15},{"density":0.0273,"flow":0.195},
{"density":0.0188,"flow":0.085},{"density":0.031,"flow":0.064},{"density":0.031,"flow":0.064},
{"density":0.027,"flow":0.194},{"density":0.0346,"flow":0.206},{"density":0.041,"flow":0.195},
{"density":0.044,"flow":0.226},{"density":0.039,"flow":0.127},{"density":0.0393,"flow":0.092},
{"density":0.0393,"flow":0.092},{"density":0.0393,"flow":0.08},{"density":0.0393,"flow":0.07},
{"density":0.0116,"flow":0.077},{"density":0.0065,"flow":0.045},{"density":0.0065,"flow":0.045},
{"density":0.0046,"flow":0.012},{"density":0.05,"flow":0.242},{"density":0.0508,"flow":0.23},
{"density":0.0527,"flow":0.21},{"density":0.0527,"flow":0.21},{"density":0.054,"flow":0.144},
{"density":0.054,"flow":0.144},{"density":0.0558,"flow":0.143},{"density":0.0609,"flow":0.13},
{"density":0.0609,"flow":0.13},{"density":0.0573,"flow":0.096},{"density":0.052,"flow":0.064},
{"density":0.0645,"flow":0.028},{"density":0.0515,"flow":0.019},{"density":0.0505,"flow":0.01},
{"density":0.0597,"flow":0.291},{"density":0.0605,"flow":0.27},{"density":0.062,"flow":0.258},
{"density":0.063,"flow":0.24},{"density":0.066,"flow":0.249},{"density":0.066,"flow":0.24},
{"density":0.066,"flow":0.179},{"density":0.067,"flow":0.283},{"density":0.0675,"flow":0.27},
{"density":0.0476,"flow":0.274},{"density":0.0415,"flow":0.283},{"density":0.0346,"flow":0.291},
{"density":0.0355,"flow":0.30},{"density":0.0297,"flow":0.306},{"density":0.027,"flow":0.29},
{"density":0.0395,"flow":0.008},{"density":0.0395,"flow":0.003},{"density":0.0395,"flow":0.003},
{"density":0.0587,"flow":0.028},{"density":0.0587,"flow":0.02},{"density":0.0587,"flow":0.012},
{"density":0.0587,"flow":0.005},{"density":0.059,"flow":0.001},{"density":0.059,"flow":0.001},
{"density":0.001,"flow":0.005},{"density":0.0015,"flow":0.012},{"density":0.0025,"flow":0.015},
{"density":0.0005,"flow":0.01},{"density":0.004,"flow":0.015}
]
},
"layer": [
  {
    "data": {"name": "samples"},
    "mark": {"type": "circle", "size": 300, "opacity": 0.32, "clip": true},
    "encoding": {
      "x": {"field": "density", "type": "quantitative",
            "scale": {"domain": [0, 0.159], "nice": false, "zero": false},
            "axis": {"title": "density (vehicles/m)", "values": [0, 0.05, 0.1, 0.15], "format": ".2f", "titlePadding": 11}},
      "y": {"field": "flow", "type": "quantitative",
            "scale": {"domain": [0, 0.579], "nice": false, "zero": false},
            "axis": {"title": "flow (vehicles/s)", "values": [0, 0.1, 0.2, 0.3, 0.4, 0.5], "format": ".1f", "titlePadding": 9}},
      "color": {"datum": "IDM flow/density samples", "type": "nominal",
                "scale": {"range": ["#0000ff"]},
                "legend": {"orient": "none", "legendX": 308, "legendY": 12, "title": null,
                           "symbolType": "circle", "symbolSize": 289, "symbolOpacity": 0.3, "symbolStrokeWidth": 0,
                           "labelFont": "DejaVu Sans", "labelFontSize": 20, "labelColor": "black", "labelLimit": 400,
                           "padding": 10, "symbolOffset": 15, "labelOffset": 34,
                           "strokeColor": "#d0d0d0", "fillColor": "white", "cornerRadius": 5}}
    }
  },
  {
    "data": {"values": [{"flow": 0.5}]},
    "mark": {"type": "rule", "color": "black", "strokeWidth": 3, "strokeDash": [9, 4]},
    "encoding": {"y": {"field": "flow", "type": "quantitative", "scale": {"domain": [0, 0.579], "nice": false, "zero": false}}}
  },
  {
    "data": {"values": [{"density": 0.01196, "flow": 0.5131, "label": "F"}]},
    "mark": {"type": "text", "font": "Liberation Serif", "fontSize": 17, "align": "center", "baseline": "alphabetic", "color": "black"},
    "encoding": {
      "x": {"field": "density", "type": "quantitative", "scale": {"domain": [0, 0.159], "nice": false, "zero": false}},
      "y": {"field": "flow", "type": "quantitative", "scale": {"domain": [0, 0.579], "nice": false, "zero": false}},
      "text": {"field": "label"}
    }
  },
  {
    "data": {"values": [{"density": 0.0165, "flow": 0.5077, "label": "i, j"}]},
    "mark": {"type": "text", "font": "Liberation Serif", "fontSize": 13, "fontStyle": "italic", "align": "center", "baseline": "alphabetic", "color": "black"},
    "encoding": {
      "x": {"field": "density", "type": "quantitative", "scale": {"domain": [0, 0.159], "nice": false, "zero": false}},
      "y": {"field": "flow", "type": "quantitative", "scale": {"domain": [0, 0.579], "nice": false, "zero": false}},
      "text": {"field": "label"}
    }
  },
  {
    "data": {"values": [{"density": 0.1423, "flow": 0.1505, "density2": 0.1507, "flow2": 0.0191}]},
    "mark": {"type": "rule", "color": "black", "strokeWidth": 1.5},
    "encoding": {
      "x": {"field": "density", "type": "quantitative", "scale": {"domain": [0, 0.159], "nice": false, "zero": false}},
      "y": {"field": "flow", "type": "quantitative", "scale": {"domain": [0, 0.579], "nice": false, "zero": false}},
      "x2": {"field": "density2"},
      "y2": {"field": "flow2"}
    }
  },
  {
    "data": {"values": [{"density": 0.1512, "flow": 0.013}]},
    "mark": {"type": "point", "shape": "triangle-down", "filled": true, "color": "black", "opacity": 1, "size": 170, "angle": 343},
    "encoding": {
      "x": {"field": "density", "type": "quantitative", "scale": {"domain": [0, 0.159], "nice": false, "zero": false}},
      "y": {"field": "flow", "type": "quantitative", "scale": {"domain": [0, 0.579], "nice": false, "zero": false}}
    }
  },
  {
    "data": {"values": [{"density": 0.1304, "flow": 0.1505, "density2": 0.1500, "flow2": 0.2526}]},
    "mark": {"type": "rect", "fill": "white", "stroke": "#222222", "strokeWidth": 1.2},
    "encoding": {
      "x": {"field": "density", "type": "quantitative", "scale": {"domain": [0, 0.159], "nice": false, "zero": false}},
      "y": {"field": "flow", "type": "quantitative", "scale": {"domain": [0, 0.579], "nice": false, "zero": false}},
      "x2": {"field": "density2"},
      "y2": {"field": "flow2"}
    }
  },
  {
    "data": {"values": [{"density": 0.1333, "flow": 0.2130, "density2": 0.1473}]},
    "mark": {"type": "rule", "color": "black", "strokeWidth": 1.8},
    "encoding": {
      "x": {"field": "density", "type": "quantitative", "scale": {"domain": [0, 0.159], "nice": false, "zero": false}},
      "y": {"field": "flow", "type": "quantitative", "scale": {"domain": [0, 0.579], "nice": false, "zero": false}},
      "x2": {"field": "density2"}
    }
  },
  {
    "data": {"values": [{"density": 0.1393, "flow": 0.2245, "label": "Q"}, {"density": 0.1351, "flow": 0.1875, "label": "T"}]},
    "mark": {"type": "text", "font": "Liberation Serif", "fontSize": 22, "align": "center", "baseline": "alphabetic", "color": "black"},
    "encoding": {
      "x": {"field": "density", "type": "quantitative", "scale": {"domain": [0, 0.159], "nice": false, "zero": false}},
      "y": {"field": "flow", "type": "quantitative", "scale": {"domain": [0, 0.579], "nice": false, "zero": false}},
      "text": {"field": "label"}
    }
  },
  {
    "data": {"values": [{"density": 0.1413, "flow": 0.1875, "label": "v"}]},
    "mark": {"type": "text", "font": "Liberation Serif", "fontSize": 22, "fontStyle": "italic", "align": "center", "baseline": "alphabetic", "color": "black"},
    "encoding": {
      "x": {"field": "density", "type": "quantitative", "scale": {"domain": [0, 0.159], "nice": false, "zero": false}},
      "y": {"field": "flow", "type": "quantitative", "scale": {"domain": [0, 0.579], "nice": false, "zero": false}},
      "text": {"field": "label"}
    }
  },
  {
    "data": {"values": [{"density": 0.1420, "flow": 0.2190, "label": "i"}, {"density": 0.1381, "flow": 0.1773, "label": "i"}, {"density": 0.1445, "flow": 0.1798, "label": "f"}]},
    "mark": {"type": "text", "font": "Liberation Serif", "fontSize": 14, "fontStyle": "italic", "align": "center", "baseline": "alphabetic", "color": "black"},
    "encoding": {
      "x": {"field": "density", "type": "quantitative", "scale": {"domain": [0, 0.159], "nice": false, "zero": false}},
      "y": {"field": "flow", "type": "quantitative", "scale": {"domain": [0, 0.579], "nice": false, "zero": false}},
      "text": {"field": "label"}
    }
  },
  {
    "data": {"values": [{"density": 0.1382, "flow": 0.1985, "label": "p"}]},
    "mark": {"type": "text", "font": "Liberation Serif", "fontSize": 13, "align": "center", "baseline": "alphabetic", "color": "black"},
    "encoding": {
      "x": {"field": "density", "type": "quantitative", "scale": {"domain": [0, 0.159], "nice": false, "zero": false}},
      "y": {"field": "flow", "type": "quantitative", "scale": {"domain": [0, 0.579], "nice": false, "zero": false}},
      "text": {"field": "label"}
    }
  }
]
}
